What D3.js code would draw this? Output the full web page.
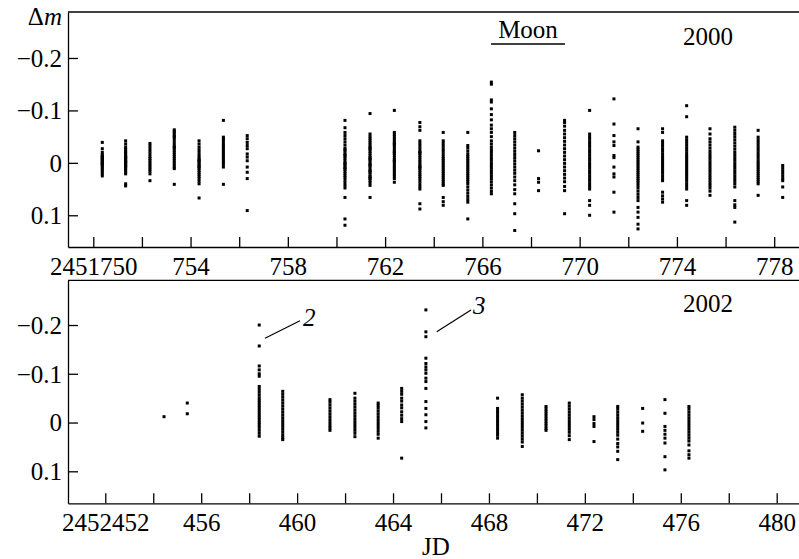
<!DOCTYPE html>
<html>
<head>
<meta charset="utf-8">
<script src="https://cdn.jsdelivr.net/npm/d3@7"></script>
<style>
  body { margin: 0; background: #fff; }
  svg { display: block; font-family: "Liberation Serif", "Times New Roman", serif; }
  .axis text { font-family: "Liberation Serif", "Times New Roman", serif; font-size: 25px; fill: #000; }
  .axis path, .axis line { stroke: #000; stroke-width: 1.3; }
</style>
</head>
<body>
<svg id="chart" width="799" height="559"></svg>
<script>
// nights of 2000 (JD) and the Δm readings of each night
const nights2000 = [2451750.37, 2451751.33, 2451752.33, 2451753.33, 2451754.35, 2451755.35, 2451756.33,
  2451760.35, 2451761.38, 2451762.38, 2451763.43, 2451764.39, 2451765.40, 2451766.37, 2451767.33,
  2451768.31, 2451769.38, 2451770.41, 2451771.41, 2451772.40, 2451773.41, 2451774.40, 2451775.36,
  2451776.38, 2451777.34, 2451778.35];
const dm2000 = [
  [-0.039, -0.027, -0.02, -0.016, -0.013, -0.01, -0.008, -0.005, -0.003, 0, 0.002, 0.004, 0.007, 0.01, 0.013, 0.017, 0.021, 0.025, -0.012, -0.006, 0.001],
  [-0.042, -0.036, -0.03, -0.026, -0.022, -0.019, -0.016, -0.013, -0.01, -0.008, -0.005, -0.003, 0, 0.002, 0.005, 0.008, 0.011, 0.014, 0.018, 0.021, 0.04, 0.044, -0.011, -0.002, 0.006],
  [-0.037, -0.032, -0.027, -0.022, -0.017, -0.012, -0.008, -0.004, 0, 0.004, 0.008, 0.012, 0.016, 0.021, 0.034],
  [-0.063, -0.06, -0.057, -0.053, -0.048, -0.043, -0.038, -0.033, -0.028, -0.024, -0.02, -0.016, -0.012, -0.008, -0.004, 0, 0.004, 0.008, 0.011, 0.041, -0.05, -0.03],
  [-0.042, -0.036, -0.03, -0.025, -0.02, -0.015, -0.011, -0.007, -0.003, 0, 0.003, 0.006, 0.01, 0.014, 0.018, 0.022, 0.026, 0.03, 0.035, 0.04, 0.067, -0.005, 0.008],
  [-0.081, -0.049, -0.046, -0.042, -0.037, -0.033, -0.029, -0.025, -0.021, -0.017, -0.013, -0.009, -0.005, -0.001, 0.003, 0.008, 0.041],
  [-0.052, -0.046, -0.039, -0.033, -0.027, -0.017, -0.011, -0.004, 0.008, 0.018, 0.03, 0.091],
  [-0.081, -0.067, -0.058, -0.052, -0.046, -0.04, -0.034, -0.028, -0.022, -0.017, -0.012, -0.008, -0.004, 0, 0.004, 0.008, 0.012, 0.016, 0.02, 0.024, 0.028, 0.033, 0.038, 0.043, 0.048, 0.066, 0.107, 0.119, -0.025, -0.015, 0.002, 0.01],
  [-0.094, -0.055, -0.05, -0.046, -0.042, -0.038, -0.034, -0.03, -0.026, -0.022, -0.018, -0.014, -0.01, -0.006, -0.002, 0.002, 0.006, 0.01, 0.014, 0.018, 0.022, 0.026, 0.03, 0.034, 0.038, 0.043, 0.066, -0.028, -0.008, 0.004, 0.016, 0.028],
  [-0.1, -0.058, -0.054, -0.05, -0.046, -0.042, -0.038, -0.034, -0.03, -0.026, -0.022, -0.018, -0.014, -0.01, -0.006, -0.002, 0.002, 0.006, 0.01, 0.014, 0.018, 0.022, 0.026, 0.03, 0.037, -0.036, -0.02, -0.004],
  [-0.077, -0.069, -0.062, -0.042, -0.037, -0.032, -0.027, -0.022, -0.018, -0.014, -0.01, -0.006, -0.002, 0.002, 0.006, 0.01, 0.014, 0.018, 0.022, 0.026, 0.03, 0.035, 0.04, 0.045, 0.05, 0.078, 0.088, -0.02, 0.008],
  [-0.058, -0.042, -0.037, -0.032, -0.027, -0.022, -0.017, -0.012, -0.008, -0.004, 0, 0.004, 0.008, 0.012, 0.016, 0.02, 0.024, 0.028, 0.032, 0.036, 0.04, 0.043, 0.066, 0.074, 0.081],
  [-0.058, -0.033, -0.028, -0.022, -0.016, -0.012, -0.008, -0.004, 0, 0.004, 0.008, 0.012, 0.016, 0.02, 0.024, 0.028, 0.032, 0.036, 0.04, 0.046, 0.052, 0.058, 0.064, 0.07, 0.075, 0.107],
  [-0.154, -0.15, -0.12, -0.116, -0.103, -0.092, -0.082, -0.072, -0.065, -0.058, -0.05, -0.042, -0.036, -0.03, -0.025, -0.02, -0.015, -0.01, -0.005, 0, 0.005, 0.01, 0.015, 0.02, 0.025, 0.03, 0.036, 0.042, 0.048, 0.054, 0.059],
  [-0.058, -0.052, -0.046, -0.04, -0.034, -0.028, -0.022, -0.016, -0.01, -0.004, 0.002, 0.008, 0.014, 0.02, 0.027, 0.034, 0.042, 0.051, 0.059, 0.078, 0.097, 0.129],
  [-0.023, 0.03, 0.037, 0.053],
  [-0.081, -0.077, -0.07, -0.062, -0.055, -0.048, -0.041, -0.034, -0.027, -0.02, -0.013, -0.006, 0.001, 0.008, 0.015, 0.022, 0.029, 0.036, 0.045, 0.053, 0.097],
  [-0.1, -0.055, -0.05, -0.045, -0.04, -0.035, -0.03, -0.025, -0.02, -0.015, -0.01, -0.005, 0, 0.005, 0.01, 0.015, 0.02, 0.025, 0.03, 0.035, 0.04, 0.045, 0.05, 0.072, 0.081, 0.1],
  [-0.122, -0.074, -0.052, -0.04, -0.033, -0.014, -0.01, 0.008, 0.021, 0.027, 0.056, 0.094],
  [-0.065, -0.04, -0.03, -0.026, -0.022, -0.018, -0.014, -0.01, -0.006, -0.002, 0.002, 0.006, 0.01, 0.014, 0.018, 0.022, 0.026, 0.03, 0.034, 0.038, 0.043, 0.048, 0.054, 0.06, 0.066, 0.072, 0.085, 0.094, 0.104, 0.117, 0.126],
  [-0.065, -0.058, -0.042, -0.037, -0.032, -0.027, -0.022, -0.017, -0.012, -0.008, -0.004, 0, 0.004, 0.008, 0.012, 0.016, 0.02, 0.025, 0.03, 0.034, 0.056, 0.063, 0.069, 0.075],
  [-0.109, -0.088, -0.049, -0.044, -0.039, -0.034, -0.029, -0.024, -0.019, -0.014, -0.01, -0.006, -0.002, 0.002, 0.006, 0.01, 0.014, 0.018, 0.022, 0.026, 0.03, 0.035, 0.04, 0.045, 0.05, 0.072, 0.081],
  [-0.065, -0.055, -0.046, -0.04, -0.034, -0.028, -0.022, -0.017, -0.012, -0.007, -0.002, 0.003, 0.008, 0.013, 0.018, 0.023, 0.028, 0.033, 0.038, 0.043, 0.048, 0.054, 0.062],
  [-0.068, -0.062, -0.056, -0.05, -0.044, -0.038, -0.032, -0.026, -0.02, -0.015, -0.01, -0.005, 0, 0.005, 0.01, 0.015, 0.02, 0.025, 0.03, 0.035, 0.04, 0.046, 0.072, 0.08, 0.085, 0.113],
  [-0.062, -0.049, -0.044, -0.039, -0.034, -0.029, -0.024, -0.019, -0.014, -0.009, -0.004, 0, 0.004, 0.008, 0.012, 0.016, 0.02, 0.024, 0.028, 0.032, 0.036, 0.04, 0.062],
  [0.005, 0.01, 0.015, 0.02, 0.025, 0.03, 0.034, 0.046, 0.066]
];

// nights of 2002
const nights2002 = [2452454.45, 2452455.42, 2452458.42, 2452459.40, 2452461.37, 2452462.41, 2452463.38,
  2452464.36, 2452465.37, 2452468.36, 2452469.39, 2452470.38, 2452471.35, 2452472.38, 2452473.37,
  2452474.41, 2452475.34, 2452476.34];
const dm2002 = [
  [-0.012],
  [-0.04, -0.018],
  [-0.2, -0.157, -0.116, -0.108, -0.1, -0.095, -0.074, -0.068, -0.062, -0.056, -0.05, -0.045, -0.04, -0.035, -0.03, -0.025, -0.02, -0.015, -0.01, -0.005, 0, 0.005, 0.01, 0.016, 0.022, 0.028],
  [-0.064, -0.058, -0.052, -0.046, -0.04, -0.034, -0.028, -0.022, -0.016, -0.01, -0.004, 0.002, 0.008, 0.014, 0.02, 0.026, 0.031, 0.035],
  [-0.047, -0.042, -0.036, -0.03, -0.024, -0.018, -0.012, -0.006, 0, 0.006, 0.011, 0.016],
  [-0.06, -0.05, -0.044, -0.038, -0.032, -0.026, -0.02, -0.014, -0.008, -0.002, 0.004, 0.01, 0.016, 0.022, 0.029],
  [-0.04, -0.035, -0.03, -0.024, -0.018, -0.012, -0.006, 0, 0.006, 0.012, 0.018, 0.024, 0.032],
  [-0.07, -0.064, -0.058, -0.05, -0.044, -0.036, -0.03, -0.022, -0.015, -0.008, -0.002, 0.073],
  [-0.231, -0.186, -0.176, -0.132, -0.121, -0.114, -0.108, -0.101, -0.091, -0.084, -0.07, -0.043, -0.029, -0.016, -0.002, 0.011],
  [-0.05, -0.029, -0.024, -0.019, -0.014, -0.009, -0.004, 0.001, 0.006, 0.011, 0.016, 0.021, 0.026, 0.032],
  [-0.057, -0.05, -0.044, -0.038, -0.032, -0.026, -0.02, -0.014, -0.008, -0.002, 0.004, 0.01, 0.016, 0.022, 0.028, 0.034, 0.04, 0.049],
  [-0.033, -0.028, -0.023, -0.018, -0.013, -0.008, -0.003, 0.002, 0.007, 0.012, 0.016],
  [-0.04, -0.034, -0.028, -0.022, -0.016, -0.01, -0.004, 0.002, 0.008, 0.014, 0.02, 0.027, 0.035],
  [-0.012, -0.006, 0.002, 0.008, 0.039],
  [-0.033, -0.028, -0.022, -0.016, -0.01, -0.004, 0.002, 0.008, 0.014, 0.02, 0.026, 0.034, 0.043, 0.05, 0.059, 0.076],
  [-0.029, 0.001, 0.018],
  [-0.047, -0.019, 0.008, 0.016, 0.024, 0.032, 0.042, 0.07, 0.097],
  [-0.033, -0.028, -0.022, -0.016, -0.01, -0.004, 0.002, 0.008, 0.014, 0.02, 0.026, 0.032, 0.038, 0.046, 0.058, 0.066, 0.073]
];

const yTicks = [-0.2, -0.1, 0, 0.1];

const svg = d3.select("#chart");
const W = 799, LEFT = 68;
const PT = 3; // point size

function fmtY(v) {
  if (v === 0) return "0";
  return (v < 0 ? "\u2212" : "") + Math.abs(v).toFixed(1);
}

function drawPanel(cfg) {
  const x = d3.scaleLinear().domain(cfg.xDomain).range([LEFT, W]);
  const y = d3.scaleLinear().domain(cfg.yDomain).range([cfg.top, cfg.bottom]);
  const g = svg.append("g");

  // top frame line
  g.append("line")
    .attr("x1", LEFT).attr("x2", W)
    .attr("y1", cfg.top).attr("y2", cfg.top)
    .attr("stroke", "#000").attr("stroke-width", 1.3);

  const xTicks = d3.range(cfg.first, cfg.last + 1, 2);
  const xAxis = d3.axisBottom(x)
    .tickValues(xTicks)
    .tickSizeInner(-10)
    .tickSizeOuter(0)
    .tickPadding(0)
    .tickFormat((d, i) => {
      if ((d - cfg.first) % 4 !== 0) return "";
      return i === 0 ? String(d) : String(d).slice(-3);
    });
  const gx = g.append("g").attr("class", "axis")
    .attr("transform", `translate(0,${cfg.bottom})`)
    .call(xAxis);
  gx.attr("font-family", null);
  gx.selectAll("text").attr("y", 28).attr("dy", 0);

  const yAxis = d3.axisLeft(y)
    .tickValues(yTicks)
    .tickSizeInner(-10)
    .tickSizeOuter(0)
    .tickPadding(7)
    .tickFormat(fmtY);
  const gy = g.append("g").attr("class", "axis")
    .attr("transform", `translate(${LEFT},0)`)
    .call(yAxis);
  gy.attr("font-family", null);
  gy.selectAll("text").attr("x", -6).attr("dy", "0.33em");

  const pts = cfg.nights.flatMap((jd, i) => cfg.dm[i].map(v => [jd, v]));
  g.append("g").selectAll("rect")
    .data(pts)
    .join("rect")
    .attr("x", d => x(d[0]) - PT / 2)
    .attr("y", d => y(d[1]) - PT / 2)
    .attr("width", PT)
    .attr("height", PT)
    .attr("fill", "#000");

  return { x, y, g };
}

const panel2000 = drawPanel({
  xDomain: [2451748.96, 2451779.02], yDomain: [-0.2877, 0.1605],
  top: 12, bottom: 247, first: 2451750, last: 2451778,
  nights: nights2000, dm: dm2000
});

const panel2002 = drawPanel({
  xDomain: [2452450.445, 2452480.93], yDomain: [-0.2917, 0.1656],
  top: 280.3, bottom: 503.3, first: 2452452, last: 2452480,
  nights: nights2002, dm: dm2002
});

// labels
const lab = svg.append("g").attr("font-size", 25).attr("fill", "#000");

const dmLabel = lab.append("text").attr("x", 62).attr("y", 25).attr("text-anchor", "end");
dmLabel.append("tspan").text("\u0394");
dmLabel.append("tspan").attr("font-style", "italic").text("m");

lab.append("text").attr("x", 528).attr("y", 38).attr("text-anchor", "middle").text("Moon");
lab.append("line").attr("x1", 491).attr("x2", 565).attr("y1", 44).attr("y2", 44)
  .attr("stroke", "#000").attr("stroke-width", 1.5);

lab.append("text").attr("x", 708).attr("y", 45).attr("text-anchor", "middle").text("2000");
lab.append("text").attr("x", 708).attr("y", 311.5).attr("text-anchor", "middle").text("2002");
lab.append("text").attr("x", 436).attr("y", 555).attr("text-anchor", "middle").text("JD");

// flare markers
lab.append("line").attr("x1", 265).attr("y1", 338.3).attr("x2", 300).attr("y2", 320.7)
  .attr("stroke", "#000").attr("stroke-width", 1.2);
lab.append("text").attr("x", 303).attr("y", 326).attr("font-style", "italic").text("2");
lab.append("line").attr("x1", 436.7).attr("y1", 331.7).attr("x2", 471).attr("y2", 310)
  .attr("stroke", "#000").attr("stroke-width", 1.2);
lab.append("text").attr("x", 473).attr("y", 314).attr("font-style", "italic").text("3");
</script>
</body>
</html>
